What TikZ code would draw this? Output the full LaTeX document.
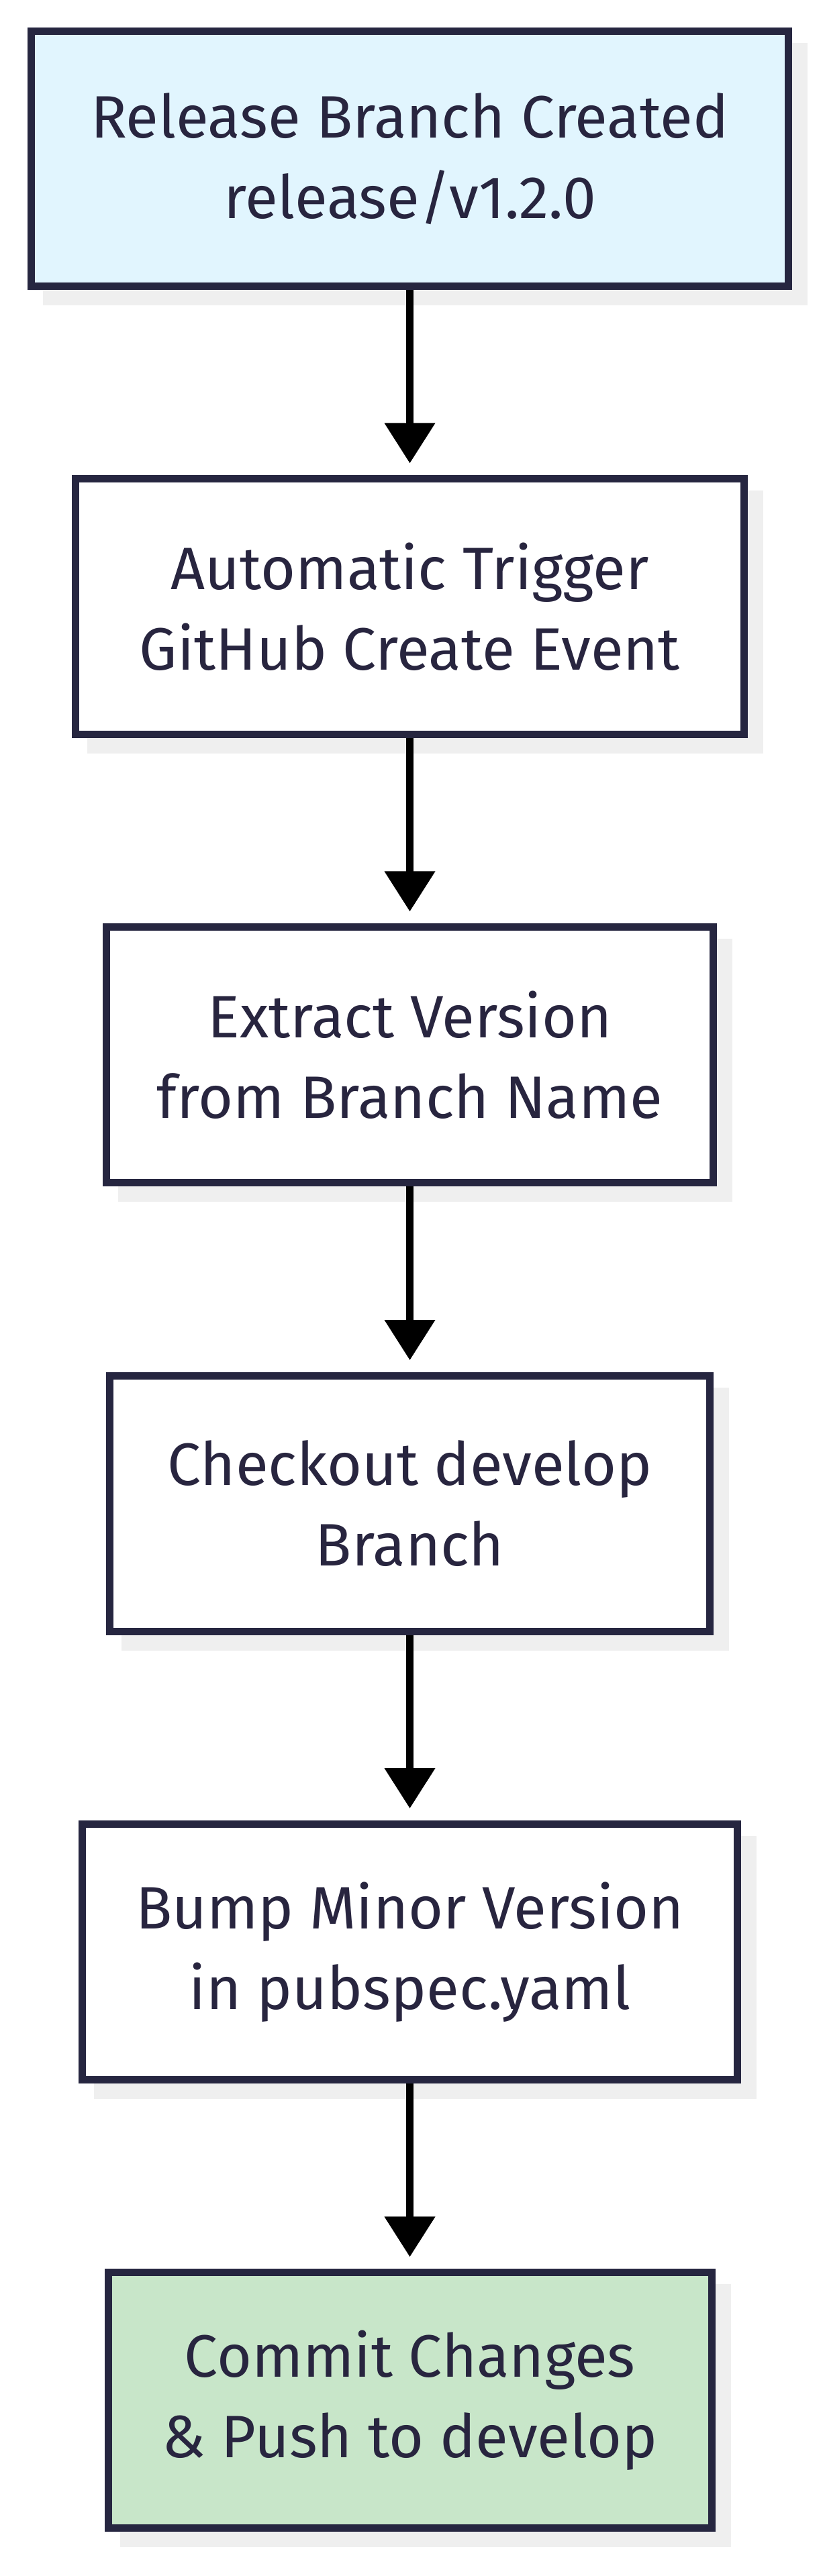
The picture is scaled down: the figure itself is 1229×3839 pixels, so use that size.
\documentclass[tikz,border=0pt]{standalone}
\usepackage{fontspec}
\setmainfont{Fira Sans}
\usetikzlibrary{arrows.meta, shadows}

\definecolor{edgenavy}{HTML}{262640}
\definecolor{textnavy}{HTML}{28253F}
\definecolor{releaseblue}{HTML}{E1F5FE}
\definecolor{pushgreen}{HTML}{C8E6C9}
\definecolor{shadowgray}{HTML}{EFEFEF}

\begin{document}
\begin{tikzpicture}[x=0.5pt, y=-0.5pt, >={Triangle[length=30pt, width=36.5pt]},
    stepbox/.style={draw=edgenavy, line width=5.5pt, fill=white,
      minimum height=190.25pt, align=center, text=textnavy,
      font=\fontsize{44.6}{60}\selectfont,
      general shadow={fill=shadowgray, draw=shadowgray, line width=5.5pt,
        shadow xshift=11.5pt, shadow yshift=-11.5pt}},
    flow/.style={->, black, line width=5.5pt, shorten >=9pt}]

    \useasboundingbox (0, 0) rectangle (1229, 3839);

    % 1. 六个步骤
    \node[stepbox, fill=releaseblue, minimum width=564pt] (created) at (610.5, 236.5)
      {Release Branch Created\\release/v1.2.0};
    \node[stepbox, minimum width=497.7pt] (trigger) at (610.5, 904.2)
      {Automatic Trigger\\GitHub Create Event};
    \node[stepbox, minimum width=451.7pt] (extract) at (610.5, 1572.2)
      {Extract Version\\from Branch Name};
    \node[stepbox, minimum width=446.7pt] (checkout) at (610.5, 2240.8)
      {Checkout develop\\Branch};
    \node[stepbox, minimum width=487.7pt] (bump) at (610.5, 2908.8)
      {Bump Minor Version\\in pubspec.yaml};
    \node[stepbox, fill=pushgreen, minimum width=449.5pt] (push) at (610.5, 3577.2)
      {Commit Changes\\\& Push to develop};

    % 2. 箭头
    \draw[flow] (created) -- (trigger);
    \draw[flow] (trigger) -- (extract);
    \draw[flow] (extract) -- (checkout);
    \draw[flow] (checkout) -- (bump);
    \draw[flow] (bump) -- (push);

  \end{tikzpicture}
\end{document}
